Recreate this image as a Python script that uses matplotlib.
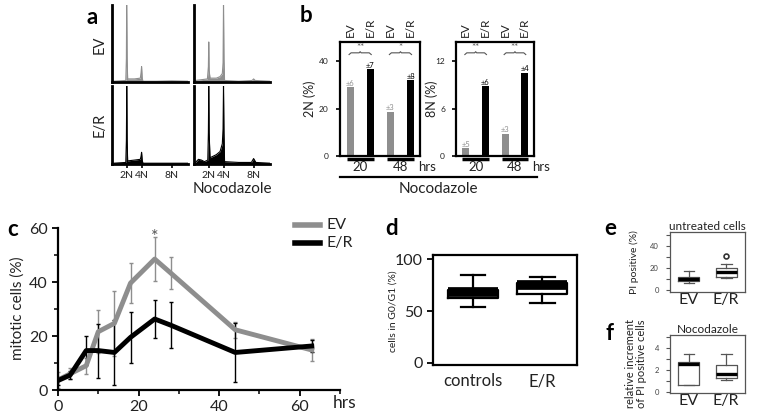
import matplotlib
matplotlib.use("Agg")
import matplotlib.pyplot as plt
from matplotlib.lines import Line2D
import matplotlib.transforms as mtransforms

plt.rcParams['font.family'] = ['Lato', 'DejaVu Sans']

W, H = 757, 416
GREY = '#8e8e8e'
TXT = '#222222'

# ---------------- data ----------------
# panel a: DNA histograms (x in N units, relative height)
a_ev_x = [0.2, 1.85, 1.93, 1.97, 2.03, 2.1, 3.0, 3.8, 3.9, 3.97, 4.05, 4.15, 6.0, 8.0, 10.2]
a_ev_y = [0.01, 0.02, 0.3, 1.0, 0.3, 0.04, 0.04, 0.05, 0.12, 0.2, 0.05, 0.01, 0.01, 0.015, 0.01]
a_evn_x = [0.2, 1.0, 1.8, 1.93, 1.98, 2.03, 2.15, 3.0, 3.5, 3.8, 3.9, 3.96, 4.02, 4.1, 6.0, 7.8, 8.0, 8.2, 10.2]
a_evn_y = [0.02, 0.03, 0.04, 0.2, 0.52, 0.15, 0.05, 0.05, 0.07, 0.11, 0.25, 1.0, 0.3, 0.02, 0.01, 0.02, 0.04, 0.02, 0.01]
a_er_x = [0.2, 1.85, 1.93, 1.98, 2.03, 2.1, 3.0, 3.8, 3.9, 3.97, 4.05, 4.15, 6.0, 8.0, 10.2]
a_er_y = [0.01, 0.02, 0.3, 1.0, 0.3, 0.04, 0.05, 0.06, 0.1, 0.15, 0.05, 0.01, 0.01, 0.01, 0.01]
a_ern_x = [0.2, 0.6, 1.0, 1.4, 1.85, 1.93, 1.98, 2.03, 2.15, 3.0, 3.5, 3.8, 3.9, 3.96, 4.02, 4.1, 6.0, 7.7, 8.0, 8.3, 10.2]
a_ern_y = [0.02, 0.06, 0.05, 0.03, 0.05, 0.4, 1.0, 0.4, 0.08, 0.12, 0.16, 0.26, 0.45, 1.0, 0.4, 0.03, 0.02, 0.02, 0.07, 0.02, 0.01]
a_ticks = [2, 4, 8]
a_ticklabels = ['2N', '4N', '8N']

# panel b
b_groups = ['EV', 'E/R', 'EV', 'E/R']
b_hours = ['20', '48']
b_2n = [29.0, 36.5, 18.7, 31.8]
b_2n_err = ['±6', '±7', '±3', '±8']
b_2n_sig = ['**', '*']
b_8n = [1.0, 8.8, 2.8, 10.5]
b_8n_err = ['±5', '±6', '±3', '±4']
b_8n_sig = ['**', '**']

# panel c
c_hrs = [0, 3, 7, 10, 14, 18, 24, 28, 44, 63]
c_ev = [3.7, 6.0, 9.0, 21.6, 24.7, 39.6, 48.5, 43.3, 22.3, 14.8]
c_ev_err = [3.0, 2.0, 3.0, 8.0, 12.0, 7.5, 8.0, 6.0, 3.0, 4.0]
c_er = [3.5, 5.5, 14.6, 14.6, 13.9, 19.5, 26.3, 24.0, 13.9, 16.3]
c_er_err = [1.5, 1.5, 5.5, 10.0, 12.0, 9.5, 7.0, 8.6, 11.0, 2.3]

# panel d
d_labels = ['controls', 'E/R']
d_med = [68, 75]
d_q1 = [62.5, 66]
d_q3 = [70.5, 77]
d_lo = [54, 58]
d_hi = [84.5, 82.5]

# panel e
e_labels = ['EV', 'E/R']
e_med = [9.8, 16.0]
e_q1 = [8.3, 11.7]
e_q3 = [11.7, 19.4]
e_lo = [6.0, 10.8]
e_hi = [17.5, 23.0]
e_out = [[], [30.8]]

# panel f
f_med = [2.5, 1.65]
f_q1 = [0.62, 1.27]
f_q3 = [2.7, 2.4]
f_lo = [0.62, 1.1]
f_hi = [3.45, 3.45]


def rect(x0, y0, x1, y1):
    return [x0 / W, 1 - y1 / H, (x1 - x0) / W, (y1 - y0) / H]


def ftext(x, y, s, **kw):
    fig.text(x / W, 1 - y / H, s, **kw)


def fline(x0, x1, y, lw=1.5, color='black'):
    fig.add_artist(Line2D([x0 / W, x1 / W], [1 - y / H, 1 - y / H],
                          transform=fig.transFigure, color=color, lw=lw))


fig = plt.figure(figsize=(7.57, 4.16), dpi=100)

# ---------------- panel a ----------------
hist_specs = [
    ((112, 5, 188, 82), a_ev_x, a_ev_y, GREY, False),
    ((194, 5, 270, 82), a_evn_x, a_evn_y, GREY, False),
    ((112, 86, 188, 164), a_er_x, a_er_y, 'black', True),
    ((194, 86, 270, 164), a_ern_x, a_ern_y, 'black', True),
]
for r, xs, ys, col, bottom in hist_specs:
    ax = fig.add_axes(rect(*r))
    ax.fill_between(xs, 0, ys, color=col, lw=0)
    ax.plot(xs, ys, color=col, lw=0.8)
    ax.set_xlim(0, 10.2)
    ax.set_ylim(0, 1.0)
    for s in ['top', 'right']:
        ax.spines[s].set_visible(False)
    ax.spines['left'].set_linewidth(2)
    ax.spines['bottom'].set_linewidth(2)
    ax.set_yticks([])
    if bottom:
        ax.set_xticks(a_ticks)
        ax.set_xticklabels(a_ticklabels, fontsize=7.5, color=TXT)
        ax.tick_params(axis='x', length=3, width=1.2, pad=2)
    else:
        ax.set_xticks([])

ftext(92, 17, 'a', fontsize=16, fontweight='bold', ha='center', va='center')
ftext(100, 45, 'EV', fontsize=10.5, rotation=90, ha='center', va='center', color=TXT)
ftext(100, 125, 'E/R', fontsize=10.5, rotation=90, ha='center', va='center', color=TXT)
ftext(232, 189, 'Nocodazole', fontsize=11, ha='center', va='center', color=TXT)

# ---------------- panel b ----------------
def bar_panel(r, vals, errs, sigs, ymax, yticks, ylabel, ylab_x):
    ax = fig.add_axes(rect(*r))
    pos = list(range(len(vals)))
    cols = [GREY, 'black', GREY, 'black']
    ax.bar(pos, vals, width=0.35, color=cols)
    ax.set_xlim(-0.5, 3.47)
    ax.set_ylim(0, ymax)
    for s in ax.spines.values():
        s.set_linewidth(1.6)
    ax.set_xticks([])
    ax.set_yticks(yticks)
    ax.set_yticklabels([str(t) for t in yticks], fontsize=6, color=TXT)
    ax.tick_params(axis='y', length=3, width=1.2, pad=5)
    for p, v, e, c in zip(pos, vals, errs, cols):
        ax.text(p, v + ymax * 0.005, e, fontsize=5.5, ha='center', va='bottom', color=c)
    tr = mtransforms.blended_transform_factory(ax.transData, ax.transAxes)
    for p, g in zip(pos, b_groups):
        ax.text(p, 1.04, g, rotation=90, fontsize=8.5, ha='center', va='bottom',
                transform=tr, color=TXT)
    for k, sig in enumerate(sigs):
        x0, x1 = 2 * k - 0.05, 2 * k + 1.05
        xm = (x0 + x1) / 2
        yb = 0.905
        ax.plot([x0, x0 + 0.1, xm - 0.05, xm, xm + 0.05, x1 - 0.1, x1],
                [yb - 0.015, yb, yb, yb + 0.01, yb, yb, yb - 0.015],
                transform=tr, color='#555555', lw=0.8, clip_on=False)
        ax.text(xm, yb + 0.005, sig, transform=tr, fontsize=7, ha='center',
                va='bottom', color='#555555')
        ax.plot([2 * k - 0.175, 2 * k + 1.175], [-0.027, -0.027], transform=tr,
                color='black', lw=2.5, clip_on=False, solid_capstyle='butt')
        ax.text(2 * k + 0.5, -0.1, b_hours[k], transform=tr, fontsize=9.5,
                ha='center', va='center', color=TXT)
    ax.text(0.98, -0.1, 'hrs', transform=ax.transAxes, fontsize=9.5, ha='left',
            va='center', color=TXT)
    ftext(ylab_x, (r[1] + r[3]) / 2, ylabel, rotation=90, fontsize=9,
          ha='center', va='center', color=TXT)
    return ax


bar_panel((340, 42, 420, 156), b_2n, b_2n_err, b_2n_sig, 48, [0, 20, 40], '2N (%)', 310)
bar_panel((456, 42, 534, 156), b_8n, b_8n_err, b_8n_sig, 14.4, [0, 6, 12], '8N (%)', 432)
fline(340, 537, 177, lw=1.6)
ftext(438, 189, 'Nocodazole', fontsize=11, ha='center', va='center', color=TXT)
ftext(306, 16, 'b', fontsize=16, fontweight='bold', ha='center', va='center')

# ---------------- panel c ----------------
axc = fig.add_axes(rect(58, 228, 340, 390))
axc.errorbar(c_hrs, c_ev, yerr=c_ev_err, color=GREY, lw=3.5, elinewidth=1,
             capsize=1.5, capthick=1, ecolor=GREY)
axc.errorbar(c_hrs, c_er, yerr=c_er_err, color='black', lw=3.5, elinewidth=1,
             capsize=1.5, capthick=1, ecolor='black')
axc.set_xlim(0, 70)
axc.set_ylim(0, 60)
for s in ['top', 'right']:
    axc.spines[s].set_visible(False)
axc.spines['left'].set_linewidth(1.6)
axc.spines['bottom'].set_linewidth(1.6)
axc.set_xticks([0, 20, 40, 60])
axc.set_xticks([10, 30, 50, 70], minor=True)
axc.set_yticks([0, 20, 40, 60])
axc.set_yticks([10, 30, 50], minor=True)
axc.tick_params(axis='both', which='major', labelsize=11.5, labelcolor=TXT,
                length=4, width=1.3)
axc.tick_params(axis='both', which='minor', length=3, width=1.1)
axc.text(24, 56.5, '*', fontsize=13, ha='center', va='center', color='#555555')
ftext(18, 308, 'mitotic cells (%)', rotation=90, fontsize=11, ha='center',
      va='center', color=TXT)
ftext(333, 403, 'hrs', fontsize=12.5, ha='left', va='center', color=TXT)
ftext(13, 230, 'c', fontsize=16, fontweight='bold', ha='center', va='center')
fline(295, 320, 225, lw=4, color=GREY)
fline(295, 320, 243, lw=4, color='black')
ftext(327, 225, 'EV', fontsize=11.5, ha='left', va='center', color=TXT)
ftext(327, 243, 'E/R', fontsize=11.5, ha='left', va='center', color=TXT)


# ---------------- boxplot helper ----------------
def stats(labels, med, q1, q3, lo, hi, fl=None):
    out = []
    for i in range(len(med)):
        out.append(dict(label=labels[i], med=med[i], q1=q1[i], q3=q3[i],
                        whislo=lo[i], whishi=hi[i],
                        fliers=(fl[i] if fl else [])))
    return out


# ---------------- panel d ----------------
axd = fig.add_axes(rect(433, 255, 577, 365))
axd.bxp(stats(d_labels, d_med, d_q1, d_q3, d_lo, d_hi), widths=0.72,
        capwidths=0.35, showfliers=False,
        boxprops=dict(color='black', lw=1.6),
        medianprops=dict(color='black', lw=7),
        whiskerprops=dict(color='black', lw=1.6),
        capprops=dict(color='black', lw=1.6))
axd.set_xlim(0.42, 2.5)
axd.set_ylim(-2, 104)
for s in axd.spines.values():
    s.set_linewidth(1.6)
axd.set_yticks([0, 50, 100])
axd.tick_params(axis='y', labelsize=11.5, labelcolor=TXT, length=4, width=1.3)
axd.tick_params(axis='x', length=0, labelsize=12, labelcolor=TXT, pad=6)
ftext(393, 311, 'cells in G0/G1 (%)', rotation=90, fontsize=7.5, ha='center',
      va='center', color=TXT)
ftext(392, 228, 'd', fontsize=16, fontweight='bold', ha='center', va='center')


# ---------------- panels e, f ----------------
def small_box(r, st, ylim, yt, ytl, title, ylabel, ylab_x, fs_y):
    ax = fig.add_axes(rect(*r))
    ax.bxp(st, widths=0.55, capwidths=0.28, showfliers=True,
           boxprops=dict(color='#555555', lw=0.9),
           medianprops=dict(color='black', lw=2.4),
           whiskerprops=dict(color='#555555', lw=0.9),
           capprops=dict(color='#555555', lw=0.9),
           flierprops=dict(marker='o', markersize=3.5, markerfacecolor='none',
                           markeredgecolor='#333333', markeredgewidth=1.2))
    ax.set_xlim(0.5, 2.5)
    ax.set_ylim(*ylim)
    for s in ax.spines.values():
        s.set_linewidth(0.9)
        s.set_color('#555555')
    ax.set_yticks(yt)
    ax.set_yticklabels(ytl, fontsize=5.5, color='#444444')
    ax.tick_params(axis='y', length=3, width=0.8, color='#555555', pad=5)
    ax.tick_params(axis='x', length=0, labelsize=11.5, labelcolor=TXT, pad=1)
    ax.set_title(title, fontsize=8.5, pad=1.5, color=TXT)
    ftext(ylab_x, (r[1] + r[3]) / 2, ylabel, rotation=90, fontsize=fs_y,
          ha='center', va='center', color=TXT, linespacing=1.0)
    return ax


small_box((670, 232, 745, 292), stats(e_labels, e_med, e_q1, e_q3, e_lo, e_hi, e_out),
          (-2, 52.5), [0, 10, 20, 30, 40, 50], ['0', '', '20', '', '40', ''],
          'untreated cells', 'PI positive (%)', 634, 7.5)
small_box((670, 335, 745, 393), stats(e_labels, f_med, f_q1, f_q3, f_lo, f_hi),
          (-0.1, 5.15), [0, 1, 2, 3, 4, 5], ['0', '', '2', '', '4', ''],
          'Nocodazole', 'relative increment\nof PI positive cells', 636, 8)
ftext(610, 228, 'e', fontsize=16, fontweight='bold', ha='center', va='center')
ftext(609, 333, 'f', fontsize=16, fontweight='bold', ha='center', va='center')

fig.savefig('out.png', dpi=100)
